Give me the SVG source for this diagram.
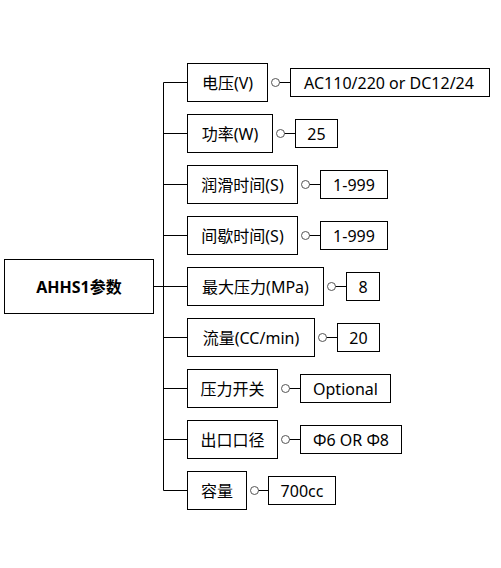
<svg xmlns="http://www.w3.org/2000/svg" width="501" height="568" viewBox="0 0 501 568">
<style>
.box{fill:#fff;stroke:#000;stroke-width:1}
.ln{stroke:#000;stroke-width:1;fill:none}
.dot{fill:#fff;stroke:#555;stroke-width:1}
.t{font-family:"Noto Sans","Noto Sans CJK SC",sans-serif;font-size:16px;fill:#000;text-anchor:middle;dominant-baseline:central}
.b{font-weight:bold;font-size:16px}
</style>
<rect width="501" height="568" fill="#fff"/>
<g id="connectors">
<path class="ln" d="M163.5 82.5V490.5M153.5 286.5H187.5M163.5 82.5H187.5M163.5 133.5H187.5M163.5 184.5H187.5M163.5 235.5H187.5M163.5 337.5H187.5M163.5 388.5H187.5M163.5 439.5H187.5M163.5 490.5H187.5"/>
<path class="ln" d="M275.5 82.5H290.5M280.5 133.5H295.5M305.5 184.5H320.5M305.5 235.5H320.5M331.5 286.5H346.5M322.5 337.5H337.5M285.5 388.5H300.5M285.5 439.5H300.5M254.5 490.5H268.5"/>
<circle class="dot" cx="275.5" cy="82.5" r="4"/>
<circle class="dot" cx="280.5" cy="133.5" r="4"/>
<circle class="dot" cx="305.5" cy="184.5" r="4"/>
<circle class="dot" cx="305.5" cy="235.5" r="4"/>
<circle class="dot" cx="331.5" cy="286.5" r="4"/>
<circle class="dot" cx="322.5" cy="337.5" r="4"/>
<circle class="dot" cx="285.5" cy="388.5" r="4"/>
<circle class="dot" cx="285.5" cy="439.5" r="4"/>
<circle class="dot" cx="254.5" cy="490.5" r="4"/>
</g>
<g id="root"><rect class="box" x="4.5" y="259.5" width="149" height="54"/><text class="t b" x="79" y="286.5">AHHS1参数</text></g>
<g id="n1"><rect class="box" x="187.5" y="63.5" width="80" height="38"/><text class="t" x="227.5" y="82.5">电压(V)</text></g>
<g id="n2"><rect class="box" x="187.5" y="114.5" width="85" height="38"/><text class="t" x="230" y="133.5">功率(W)</text></g>
<g id="n3"><rect class="box" x="187.5" y="165.5" width="110" height="38"/><text class="t" x="242.5" y="184.5">润滑时间(S)</text></g>
<g id="n4"><rect class="box" x="187.5" y="216.5" width="110" height="38"/><text class="t" x="242.5" y="235.5">间歇时间(S)</text></g>
<g id="n5"><rect class="box" x="187.5" y="267.5" width="136" height="38"/><text class="t" x="255.5" y="286.5">最大压力(MPa)</text></g>
<g id="n6"><rect class="box" x="187.5" y="318.5" width="127" height="38"/><text class="t" x="251" y="337.5">流量(CC/min)</text></g>
<g id="n7"><rect class="box" x="187.5" y="369.5" width="90" height="38"/><text class="t" x="232.5" y="388.5">压力开关</text></g>
<g id="n8"><rect class="box" x="187.5" y="420.5" width="90" height="38"/><text class="t" x="232.5" y="439.5">出口口径</text></g>
<g id="n9"><rect class="box" x="187.5" y="471.5" width="59" height="38"/><text class="t" x="217" y="490.5">容量</text></g>
<g id="v1"><rect class="box" x="290.5" y="68.5" width="199" height="28"/><text class="t" x="389" y="82.5">AC110/220 or DC12/24</text></g>
<g id="v2"><rect class="box" x="295.5" y="119.5" width="42" height="28"/><text class="t" x="316.5" y="133.5">25</text></g>
<g id="v3"><rect class="box" x="320.5" y="170.5" width="67" height="28"/><text class="t" x="354" y="184.5">1-999</text></g>
<g id="v4"><rect class="box" x="320.5" y="221.5" width="67" height="28"/><text class="t" x="354" y="235.5">1-999</text></g>
<g id="v5"><rect class="box" x="346.5" y="272.5" width="33" height="28"/><text class="t" x="363" y="286.5">8</text></g>
<g id="v6"><rect class="box" x="337.5" y="323.5" width="42" height="28"/><text class="t" x="358.5" y="337.5">20</text></g>
<g id="v7"><rect class="box" x="300.5" y="374.5" width="90" height="28"/><text class="t" x="345.5" y="388.5">Optional</text></g>
<g id="v8"><rect class="box" x="300.5" y="425.5" width="101" height="28"/><text class="t" x="351" y="439.5">Φ6 OR Φ8</text></g>
<g id="v9"><rect class="box" x="268.5" y="476.5" width="67" height="28"/><text class="t" x="302" y="490.5">700cc</text></g>
</svg>
